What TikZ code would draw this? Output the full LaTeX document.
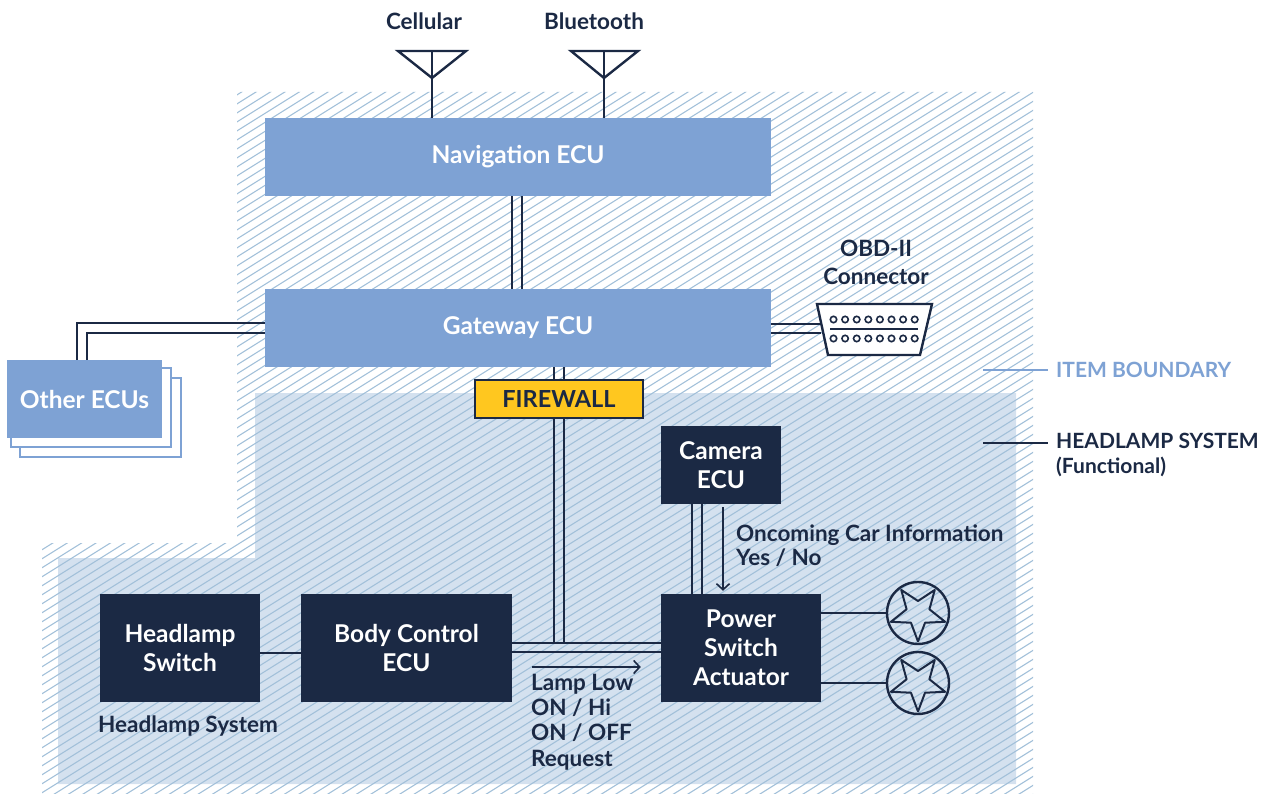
\documentclass[tikz,border=0pt]{standalone}
\usepackage{fontspec}
\setmainfont{Lato}
\usetikzlibrary{arrows.meta,calc}
\definecolor{navy}{HTML}{1B2944}
\definecolor{midblue}{HTML}{7EA2D4}
\definecolor{fillblue}{HTML}{D4E1EF}
\definecolor{hatchc}{HTML}{A2C0D9}
\definecolor{fwyellow}{HTML}{FFC71F}
\begin{document}
\begin{tikzpicture}[x=1pt,y=-1pt,
  bluebox/.style={fill=midblue, text=white, inner sep=0pt, align=center, font=\fontsize{24.5}{29}\selectfont\bfseries},
  darkbox/.style={fill=navy, text=white, inner sep=0pt, align=center, font=\fontsize{24.5}{28.8}\selectfont\bfseries},
  wire/.style={draw=navy, line width=2.4pt},
  thinwire/.style={draw=navy, line width=1.6pt},
  lbl/.style={text=navy, inner sep=0pt, font=\fontsize{22.5}{25.5}\selectfont\bfseries},
  lamp/.style={circle, draw=navy, line width=2.4pt, minimum size=62pt, inner sep=0pt},
  openarrow/.style={thinwire, -{Straight Barb[length=6pt,width=13pt,line width=1.6pt]}},
  lampstar/.pic={\draw[navy, line width=2pt, line join=round] (90:28.5) -- (126:12) -- (162:28.5) -- (198:12) -- (234:28.5) -- (270:12) -- (306:28.5) -- (342:12) -- (18:28.5) -- (54:12) -- cycle;}
]
\useasboundingbox (0,0) rectangle (1264,794);

% regions
\begin{scope}
\clip (237,92) -- (1033,92) -- (1033,794) -- (42,794) -- (42,543) -- (237,543) -- cycle;
\fill[fillblue] (255,393) -- (1016,393) -- (1016,784) -- (58,784) -- (58,558) -- (255,558) -- cycle;
\foreach \c in {200,209,...,1430} \draw[hatchc, line width=1.1pt] (40,\c) -- ++(1000,-625);
\end{scope}

% main boxes
\node[bluebox, minimum width=506pt, minimum height=78pt] (nav) at (518,157) {Navigation ECU};
\node[bluebox, minimum width=506pt, minimum height=78pt] (gw) at (518,328) {Gateway ECU};

% other ECUs stack
\draw[midblue, line width=2.4pt, fill=white] (20,378) rectangle (181,457);
\draw[midblue, line width=2.4pt, fill=white] (11,368) rectangle (171,447);
\node[bluebox, minimum width=155pt, minimum height=78pt] (other) at (84.5,399) {Other ECUs};

\node[darkbox, minimum width=120pt, minimum height=78pt] (cam) at (721,465) {Camera\\ECU};
\node[darkbox, minimum width=160pt, minimum height=108pt] (psa) at (741,648) {Power\\Switch\\Actuator};
\node[darkbox, minimum width=160pt, minimum height=108pt] (hls) at (180,648) {Headlamp\\Switch};
\node[darkbox, minimum width=211pt, minimum height=108pt] (bcm) at (406.5,648) {Body Control\\ECU};

\node[lamp] (lamp1) at (918,613) {};
\node[lamp] (lamp2) at (918,683) {};
\pic at (lamp1.center) {lampstar};
\pic at (lamp2.center) {lampstar};

% antennas
\node[lbl] (cell) at (424,21) {Cellular};
\node[lbl] (bt) at (594,21) {Bluetooth};
\coordinate (cellA) at (432,78);
\coordinate (btA) at (604,78);
\draw[wire, line join=miter] (398,51) -- (466,51) -- (cellA) -- cycle;
\draw[wire, line join=miter] (571,51) -- (638,51) -- (btA) -- cycle;
\draw[wire] (432,51) -- (cellA |- nav.north);
\draw[wire] (604,51) -- (btA |- nav.north);

% nav - gateway
\draw[wire] ([xshift=-6pt]nav.south) -- ([xshift=-6pt]gw.north);
\draw[wire] ([xshift=4pt]nav.south) -- ([xshift=4pt]gw.north);

% gateway - other ECUs
\draw[wire] ([yshift=5pt]gw.west) -| ([xshift=-7.5pt]other.north);
\draw[wire] ([yshift=-5pt]gw.west) -| ([xshift=2.5pt]other.north);

% OBD connector
\node[inner sep=0pt, minimum width=107pt, minimum height=51pt] (obd) at (874.5,329.5) {};
\draw[wire] ([yshift=4pt]gw.east) -- ([yshift=5.5pt]obd.west);
\draw[wire] ([yshift=-5pt]gw.east) -- ([yshift=-3.5pt]obd.west);
\draw[wire, fill=white, line join=miter] (817,304) -- (932,304) -- (920,355) -- (828,355) -- cycle;
\foreach \i in {0,...,7} {
  \draw[navy, line width=1.6pt] (833.5+11.6*\i,319.5) circle (3.2pt);
  \draw[navy, line width=1.6pt] (833.5+11.6*\i,338.5) circle (3.2pt);
}
\draw[navy, line width=2pt] (830,329) -- (918,329);
\node[lbl, align=center, font=\fontsize{22.5}{28}\selectfont\bfseries] (obdlbl) at (876,262) {OBD-II\\Connector};

% bus
\coordinate (busT) at ([yshift=5pt]bcm.east);
\coordinate (busB) at ([yshift=-4pt]bcm.east);
\draw[wire] (busT) -- (busT -| psa.west);
\draw[wire] (busB) -- (busB -| psa.west);
\coordinate (vL) at ([xshift=36pt]gw.south);
\coordinate (vR) at ([xshift=46pt]gw.south);
\draw[wire] (vL) -- (vL |- busT);
\draw[wire] (vR) -- (vR |- busT);

% firewall
\node[fill=fwyellow, draw=navy, line width=2.4pt, minimum width=168pt, minimum height=38pt, inner sep=0pt, text=navy, font=\fontsize{23.5}{26}\selectfont\bfseries] (fw) at (559,399) {FIREWALL};

% headlamp switch - body control
\draw[wire] ([yshift=-5pt]hls.east) -- ([yshift=-5pt]bcm.west);

% camera - psa
\coordinate (cL) at ([xshift=-29pt]cam.south);
\coordinate (cR) at ([xshift=-19pt]cam.south);
\draw[wire] (cL) -- (cL |- psa.north);
\draw[wire] (cR) -- (cR |- psa.north);
\coordinate (cA) at ([xshift=2pt]cam.south);
\draw[openarrow, shorten <=3pt, shorten >=3pt] (cA) -- (cA |- psa.north);
\node[lbl, anchor=west, align=left, font=\fontsize{22.5}{24}\selectfont\bfseries] (onc) at (736,546) {Oncoming Car Information\\Yes / No};

% lamps
\draw[wire] (psa.east |- lamp1.west) -- (lamp1.west);
\draw[wire] (psa.east |- lamp2.west) -- (lamp2.west);

% request arrow
\draw[openarrow] ([shift={(20pt,-19pt)}]bcm.east) -- ([shift={(-20pt,-19pt)}]psa.west);
\node[lbl, anchor=west, align=left, font=\fontsize{22.5}{25.4}\selectfont\bfseries] (req) at (531,722) {Lamp Low\\ON / Hi\\ON / OFF\\Request};

\node[lbl] (hsys) at (188,726) {Headlamp System};

% legend
\node[lbl, anchor=west, text=midblue, font=\fontsize{21}{25}\selectfont\bfseries] (lgItem) at (1056,370) {ITEM BOUNDARY};
\coordinate (lgItemS) at (983,370);
\draw[midblue, line width=2.4pt] (lgItemS) -- ([xshift=-8pt]lgItem.west);
\node[lbl, anchor=west, align=left, font=\fontsize{21}{25}\selectfont\bfseries] (lgHead) at (1056,454.5) {HEADLAMP SYSTEM\\(Functional)};
\coordinate (lgHeadS) at (983,443);
\draw[wire] (lgHeadS) -- (1048,443);
\end{tikzpicture}
\end{document}
